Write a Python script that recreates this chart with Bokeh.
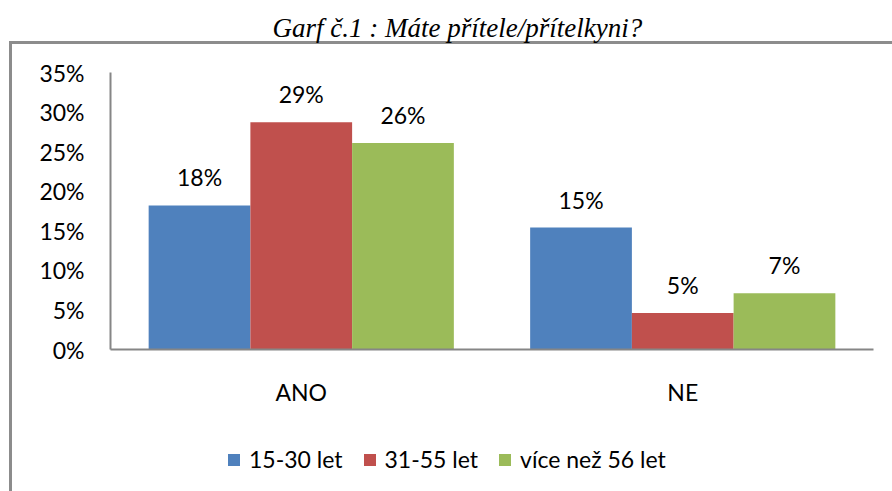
from bokeh.plotting import figure
from bokeh.layouts import column
from bokeh.models import (ColumnDataSource, FactorRange, Range1d, Label,
                          Legend, LegendItem)
from bokeh.transform import dodge
from bokeh.core.properties import value
from bokeh.embed import file_html
from bokeh.resources import INLINE

categories = ["ANO", "NE"]
series = ["15-30 let", "31-55 let", "více než 56 let"]
s1 = [18.2, 15.4]
s2 = [28.7, 4.6]
s3 = [26.1, 7.1]
colors = ["#4F81BD", "#C0504D", "#9BBB59"]
y_ticks = [0, 5, 10, 15, 20, 25, 30, 35]
y_tick_labels = ["0%", "5%", "10%", "15%", "20%", "25%", "30%", "35%"]
title_text = "Garf č.1 : Máte přítele/přítelkyni?"

FONT = "Lato"
FS = "23px"
GREY = "#8C8C8C"
LINE = f"linear-gradient({GREY},{GREY})"

# --- title strip (frames are aligned with the main chart: left edge at 110px) ---
t = figure(width=892, height=44, x_range=Range1d(0, 1), y_range=Range1d(0, 1),
           output_backend="svg", toolbar_location=None, tools="",
           x_axis_location=None, y_axis_location=None, min_border=0)
t.outline_line_color = None
t.background_fill_color = None
t.border_fill_color = None
t.grid.visible = False
t.styles = {
    "background-color": "white",
    "background-image": f"{LINE}, {LINE}",
    "background-size": "100% 3px, 3px 100%",
    "background-position": "9px 41px, 9px 41px",
    "background-repeat": "no-repeat",
}
t.add_layout(Label(x=162, y=17, x_units="screen", y_units="screen", text=title_text,
                   text_align="left", text_baseline="middle",
                   text_font="Liberation Serif", text_font_style="italic",
                   text_font_size="27px", text_color="black"))

# --- main chart ----------------------------------------------------------
p = figure(frame_width=763, frame_height=277,
           x_range=FactorRange(*categories), y_range=Range1d(0, 35),
           output_backend="svg", toolbar_location=None, tools="",
           min_border_left=110, min_border_right=19, min_border_top=28, min_border_bottom=81)
p.outline_line_color = None
p.background_fill_color = "white"
p.border_fill_color = None
p.xgrid.grid_line_color = None
p.ygrid.grid_line_color = None
p.styles = {
    "background-color": "white",
    "background-image": LINE,
    "background-size": "3px 100%",
    "background-position": "9px 0px",
    "background-repeat": "no-repeat",
}

width = 0.8 / 3
offsets = [-width, 0.0, width]
for vals, col, off in zip([s1, s2, s3], colors, offsets):
    src = ColumnDataSource(dict(cat=categories, val=vals,
                                lab=[f"{round(v)}%" for v in vals]))
    p.vbar(x=dodge("cat", off, range=p.x_range), top="val", width=width, source=src,
           fill_color=col, line_color=None)
    p.text(x=dodge("cat", off, range=p.x_range), y="val", text="lab", source=src,
           text_align="center", text_baseline="alphabetic", y_offset=-28,
           text_font=value(FONT), text_font_size=FS, text_color="black")

for ax in (p.xaxis[0], p.yaxis[0]):
    ax.axis_line_color = "#868686"
    ax.axis_line_width = 2
    ax.major_tick_in = 0
    ax.major_tick_out = 0
    ax.minor_tick_in = 0
    ax.minor_tick_out = 0
    ax.major_label_text_font = FONT
    ax.major_label_text_font_size = FS
    ax.major_label_text_color = "black"

p.yaxis.ticker = y_ticks
p.yaxis.major_label_overrides = {t_: l for t_, l in zip(y_ticks, y_tick_labels)}
p.yaxis.major_label_standoff = 26
p.xaxis.major_label_standoff = 28

# --- legend strip --------------------------------------------------------
lg = figure(width=892, height=61, x_range=FactorRange(*categories), y_range=Range1d(-2, -1),
            output_backend="svg", toolbar_location=None, tools="",
            x_axis_location=None, y_axis_location=None, min_border=0)
lg.outline_line_color = None
lg.background_fill_color = None
lg.border_fill_color = None
lg.grid.visible = False
lg.styles = {
    "background-color": "white",
    "background-image": LINE,
    "background-size": "3px 100%",
    "background-position": "9px 0px",
    "background-repeat": "no-repeat",
}
items = []
for vals, name, col in zip([s1, s2, s3], series, colors):
    r = lg.vbar(x=categories, top=vals, width=0.0, fill_color=col, line_color=None)
    items.append(LegendItem(label=name, renderers=[r], index=0))
legend = Legend(items=items, orientation="horizontal", location=(116, 18),
                glyph_width=15, glyph_height=15, label_standoff=8, spacing=19,
                padding=0, margin=0, border_line_color=None, background_fill_alpha=0,
                label_text_font=FONT, label_text_font_size=FS, label_text_color="black")
lg.add_layout(legend, "center")

layout = column(t, p, lg, spacing=0)
open("out.html", "w").write(file_html(layout, INLINE))
